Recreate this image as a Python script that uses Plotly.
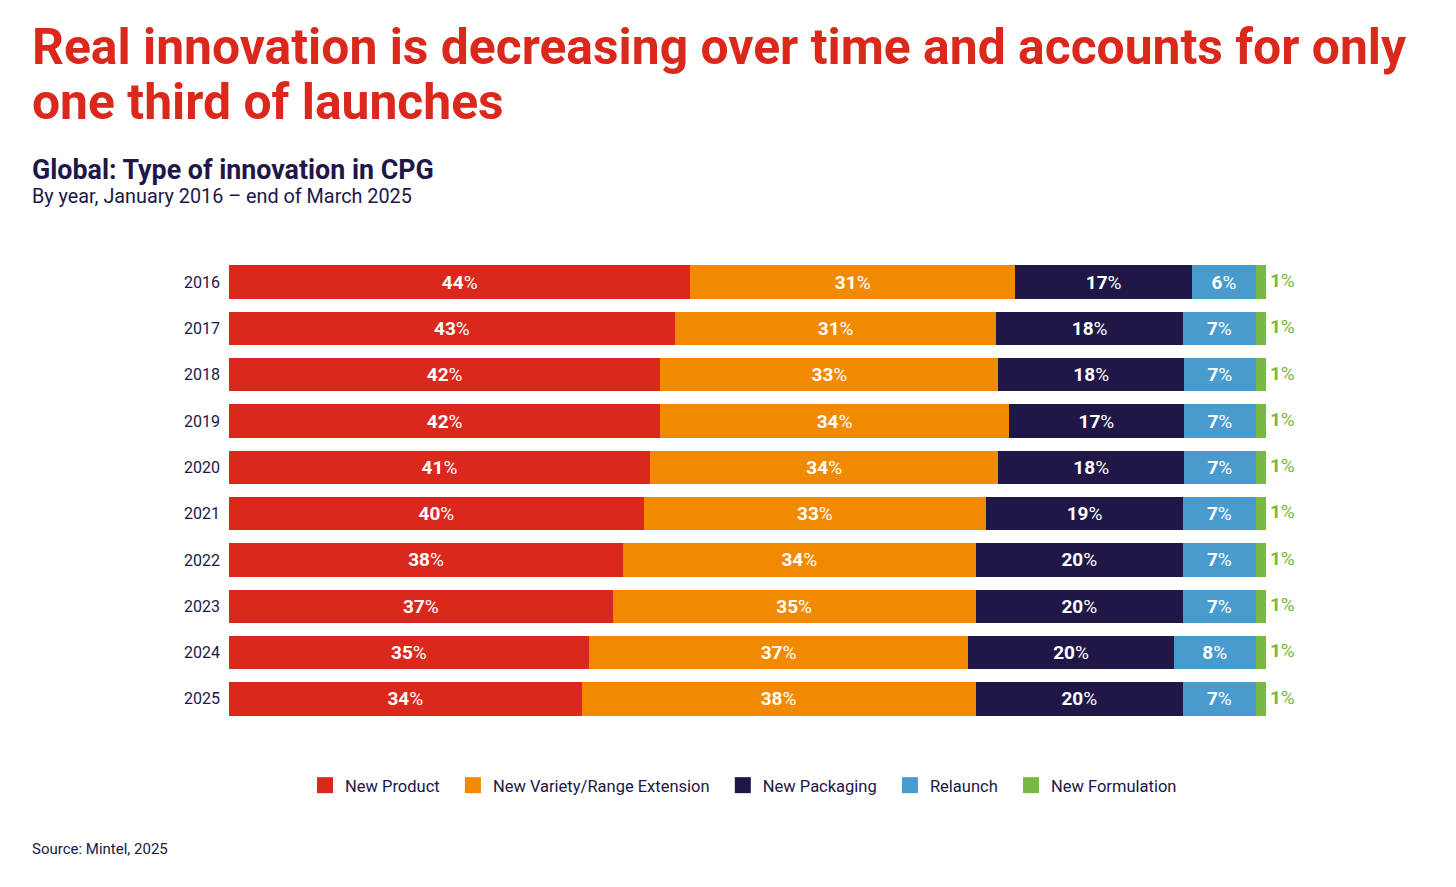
import plotly.graph_objects as go

years = ["2016", "2017", "2018", "2019", "2020", "2021", "2022", "2023", "2024", "2025"]

new_product = [44.5, 43.0, 41.6, 41.6, 40.6, 40.0, 38.0, 37.0, 34.7, 34.0]
new_variety = [31.3, 31.0, 32.6, 33.6, 33.6, 33.0, 34.0, 35.0, 36.6, 38.0]
new_packaging = [17.1, 18.0, 17.9, 16.9, 17.9, 19.0, 20.0, 20.0, 19.8, 20.0]
relaunch = [6.1, 7.0, 6.9, 6.9, 6.9, 7.0, 7.0, 7.0, 7.9, 7.0]
new_formulation = [1.0, 1.0, 1.0, 1.0, 1.0, 1.0, 1.0, 1.0, 1.0, 1.0]

series = [
    ("New Product", new_product, "#DA291C"),
    ("New Variety/Range Extension", new_variety, "#F18A00"),
    ("New Packaging", new_packaging, "#201747"),
    ("Relaunch", relaunch, "#4A9BCD"),
    ("New Formulation", new_formulation, "#78B843"),
]

NAVY = "#201747"
RED = "#DA291C"
GREEN = "#78B843"
FONT = "Roboto"

# figure geometry (pixels); page puts the figure 8px in from the corner
W, H = 1456, 887
OFF = 8
L, R, T, B = 221, 198, 251, 172.5
PW, PH = W - L - R, H - T - B


def px_x(x):
    return (x - OFF - L) / PW


def px_y(y):
    return 1 - (y - OFF - T) / PH


fig = go.Figure()

for name, vals, color in series:
    is_last = name == "New Formulation"
    fig.add_trace(go.Bar(
        y=years, x=vals, orientation="h", name=name,
        marker=dict(color=color, line=dict(width=0)),
        text=None if is_last else [f"<b>{v:.0f}</b>%" for v in vals],
        textposition="inside",
        insidetextanchor="middle",
        textfont=dict(family=FONT, size=19, color="white"),
        showlegend=False,
        hoverinfo="skip",
    ))

# small last segment labelled just past the bar end
totals = [sum(s[1][i] for s in series) for i in range(len(years))]
fig.add_trace(go.Scatter(
    x=totals, y=years, mode="text",
    text=[f"\u2009<b>{v:.0f}</b>%" for v in new_formulation],
    textposition="middle right",
    textfont=dict(family=FONT, size=19, color=GREEN),
    cliponaxis=False, showlegend=False, hoverinfo="skip",
))

# legend swatches (extra padding after the label to space the entries out)
for name, vals, color in series:
    fig.add_trace(go.Scatter(
        x=[None], y=[None], mode="markers", name=name + "\u00a0\u00a0",
        marker=dict(symbol="square", size=19, color=color),
        hoverinfo="skip",
    ))

fig.update_layout(
    width=W, height=H,
    margin=dict(l=L, r=R, t=T, b=B),
    barmode="stack",
    bargap=0.28,
    paper_bgcolor="white",
    plot_bgcolor="white",
    font=dict(family=FONT, color=NAVY),
    uniformtext=dict(minsize=19, mode="show"),
    xaxis=dict(range=[0, 100], visible=False, fixedrange=True),
    yaxis=dict(
        type="category",
        categoryorder="array", categoryarray=years,
        range=[len(years) - 0.5, -0.5],
        showgrid=False, zeroline=False, showline=False, ticks="",
        ticklabelstandoff=8,
        tickfont=dict(family=FONT, size=16, color=NAVY),
    ),
    legend=dict(
        orientation="h", x=0.5, xanchor="center", y=px_y(786), yanchor="middle",
        traceorder="normal",
        font=dict(family=FONT, size=16.5, color=NAVY),
        itemwidth=30,
    ),
)

annots = [
    ("<b>Real innovation is decreasing over time and accounts for only</b>", 47, 49.8, RED),
    ("<b>one third of launches</b>", 102, 49.8, RED),
    ("<b>Global: Type of innovation in CPG</b>", 169.5, 26.8, NAVY),
    ("By year, January 2016 – end of March 2025", 196, 19.8, NAVY),
    ("Source: Mintel, 2025", 849.5, 15, NAVY),
]
for txt, yc, size, color in annots:
    fig.add_annotation(
        text=txt, xref="paper", yref="paper", x=px_x(30), y=px_y(yc),
        xanchor="left", yanchor="middle", showarrow=False,
        font=dict(family=FONT, size=size, color=color),
    )

fig.write_html("out.html")
